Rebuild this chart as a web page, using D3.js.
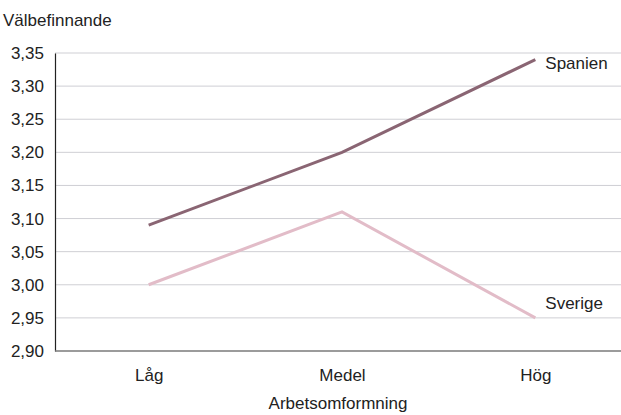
<!DOCTYPE html>
<html><head><meta charset="utf-8">
<script src="https://cdn.jsdelivr.net/npm/d3@7"></script>
<style>
body{margin:0;background:#fff;}
text{font-family:"Liberation Sans",Arial,sans-serif;fill:#222;}
</style></head>
<body><svg id="c" width="621" height="415"></svg>
<script>
const categories = ["Låg", "Medel", "Hög"];
const spanien = [3.09, 3.20, 3.34];
const sverige = [3.00, 3.11, 2.95];
const yTicks = [2.90, 2.95, 3.00, 3.05, 3.10, 3.15, 3.20, 3.25, 3.30, 3.35];
const seriesNames = ["Spanien", "Sverige"];
const colors = ["#8a6573", "#e2bcc8"];

(function () {
const svg = d3.select("#c");
const fs = 17;
const mLeft = 55, mRight = 621, mTop = 53, mBottom = 351;
const x = d3.scalePoint().domain(categories).range([52, 632]).padding(0.5);
const y = d3.scaleLinear().domain([2.90, 3.35]).range([mBottom, mTop]);
const fmt = v => d3.format(".2f")(v).replace(".", ",");

// gridlines
svg.append("g").selectAll("line").data(yTicks.slice(1)).join("line")
  .attr("x1", mLeft).attr("x2", mRight)
  .attr("y1", d => y(d)).attr("y2", d => y(d))
  .attr("stroke", "#cfcfd4").attr("stroke-width", 1);

// y axis
const ya = svg.append("g").attr("transform", `translate(${mLeft},0)`)
  .call(d3.axisLeft(y).tickValues(yTicks).tickFormat(fmt).tickSize(0).tickPadding(11));
ya.select(".domain").attr("stroke", "#222").attr("stroke-width", 1.2);
ya.selectAll("text").attr("font-size", fs).style("font-family", "'Liberation Sans',Arial,sans-serif").attr("fill", "#222");

// x axis
const xa = svg.append("g").attr("transform", `translate(0,${mBottom})`)
  .call(d3.axisBottom(x).tickSize(0).tickPadding(18));
xa.select(".domain").remove();
xa.selectAll("text").attr("font-size", fs).style("font-family", "'Liberation Sans',Arial,sans-serif").attr("fill", "#222");
svg.append("line").attr("x1", mLeft).attr("x2", mRight).attr("y1", mBottom).attr("y2", mBottom)
  .attr("stroke", "#7a7a7a").attr("stroke-width", 1.5);

// lines
const line = d3.line().x((d, i) => x(categories[i])).y(d => y(d));
[spanien, sverige].forEach((s, k) => {
  svg.append("path").datum(s).attr("d", line)
    .attr("fill", "none").attr("stroke", colors[k]).attr("stroke-width", 3);
});

// labels
const labelDy = [9, -9];
[spanien, sverige].forEach((s, k) => {
  svg.append("text").attr("x", x(categories[2]) + 10).attr("y", y(s[2]) + labelDy[k])
    .attr("font-size", fs).text(seriesNames[k]);
});

// titles
svg.append("text").attr("x", 3).attr("y", 26).attr("font-size", fs).text("Välbefinnande");
svg.append("text").attr("x", 338).attr("y", 409).attr("text-anchor", "middle").attr("font-size", fs).text("Arbetsomformning");
})();
</script></body></html>
